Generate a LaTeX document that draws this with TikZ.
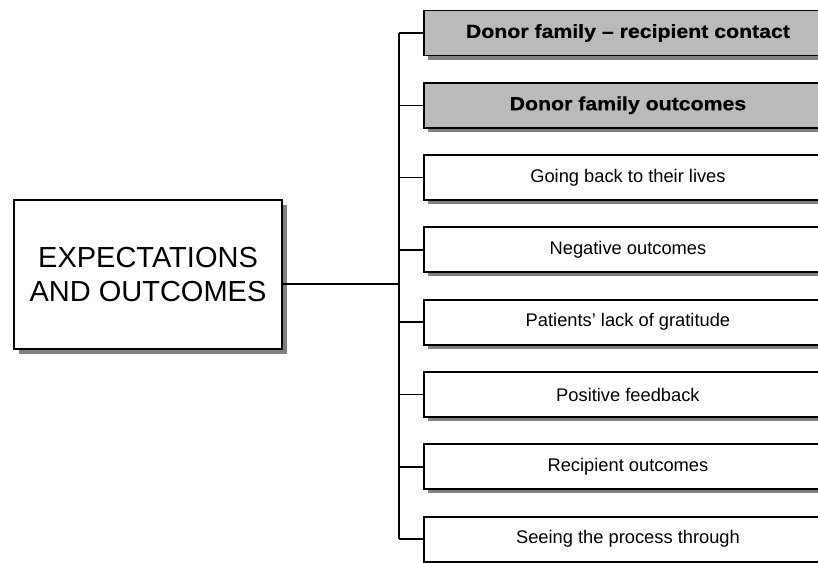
\documentclass[tikz,border=0pt]{standalone}
\usepackage{fontspec}
\setmainfont{Liberation Sans}
\newfontfamily\widefont[FakeStretch=1.12,FakeBold=0.6]{Liberation Sans}
\usetikzlibrary{shadows}
\tikzset{
  boxline/.style={draw=black, line width=1.9pt},
  mainbox/.style={boxline, fill=white, minimum width=268pt, minimum height=149pt,
    inner sep=0pt, align=center,
    drop shadow={shadow xshift=5pt, shadow yshift=-5pt, fill=black!50, opacity=1}},
  topicbox/.style={boxline, fill=white, anchor=west, minimum width=408pt,
    minimum height=45pt, inner sep=0pt,
    font=\fontsize{18.3}{22}\selectfont,
    drop shadow={shadow xshift=4pt, shadow yshift=-4pt, fill=black!50, opacity=1}},
  keybox/.style={topicbox, fill=black!27, font=\widefont\bfseries\fontsize{19}{22}\selectfont},
  wire/.style={draw=black, line width=1.6pt},
}
\begin{document}
\begin{tikzpicture}[x=1pt, y=-1pt]
  \clip (0,0) rectangle (818,562);
  \fill[white] (0,0) rectangle (818,562);

  % central theme
  \node[mainbox] (main) at (148,274.5)
    {\raisebox{8pt}{\parbox{260pt}{\centering\fontsize{29}{34}\selectfont EXPECTATIONS\\AND OUTCOMES}}};

  % sub-themes
  \node[keybox]   (t1) at (423,33)    {Donor family – recipient contact};
  \node[keybox]   (t2) at (423,105.3) {Donor family outcomes};
  \node[topicbox] (t3) at (423,177.6) {Going back to their lives};
  \node[topicbox] (t4) at (423,249.9) {Negative outcomes};
  \node[topicbox] (t5) at (423,322.2) {Patients’ lack of gratitude};
  \node[topicbox] (t6) at (423,394.5) {Positive feedback};
  \node[topicbox] (t7) at (423,466.8) {Recipient outcomes};
  \node[topicbox] (t8) at (423,539.1) {Seeing the process through};

  % tree connectors
  \coordinate (trunk) at (399,284);
  \draw[wire] (main.east |- trunk) -- (trunk);
  \draw[wire] (t1.west -| trunk) -- (t8.west -| trunk);
  \foreach \t in {t1,t2,t3,t4,t5,t6,t7,t8}
    \draw[wire] (\t.west -| trunk) -- (\t.west);
\end{tikzpicture}
\end{document}
